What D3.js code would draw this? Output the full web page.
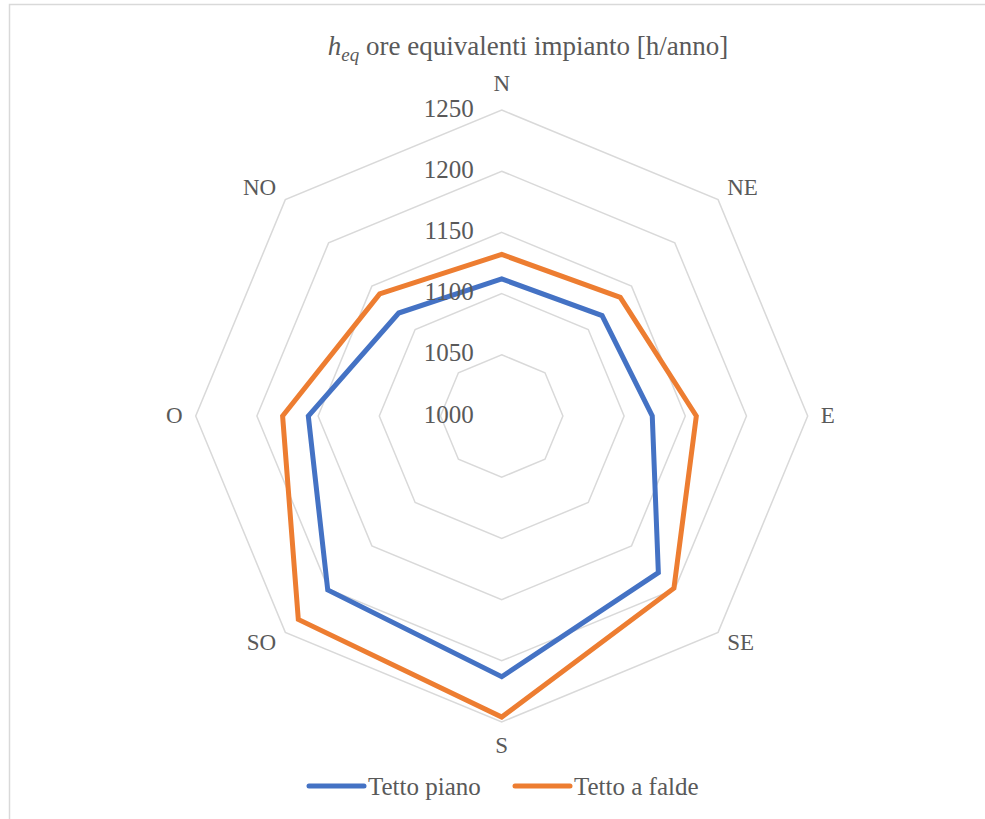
<!DOCTYPE html>
<html>
<head>
<meta charset="utf-8">
<script src="https://cdn.jsdelivr.net/npm/d3@7"></script>
<style>
  body { margin: 0; background: #fff; }
  svg { display: block; }
</style>
</head>
<body>
<div id="radar"></div>
<script>
const directions = ['N', 'NE', 'E', 'SE', 'S', 'SO', 'O', 'NO'];
const tettoPiano = [1112, 1116, 1123, 1181, 1213, 1201, 1158, 1119];
const tettoFalde = [1132, 1137, 1159, 1199, 1246, 1235, 1179, 1141];
const ringTicks = [1000, 1050, 1100, 1150, 1200, 1250];

const series = [
  { name: 'Tetto piano', values: tettoPiano, color: '#4472C4' },
  { name: 'Tetto a falde', values: tettoFalde, color: '#ED7D31' }
];

const width = 985;
const height = 819;
const cx = 501.7, cy = 416;
const font = '"Liberation Serif", serif';

const svg = d3.select('#radar')
  .append('svg')
  .attr('width', width)
  .attr('height', height);

// chart area border
svg.append('rect')
  .attr('x', 9.5)
  .attr('y', 4.5)
  .attr('width', width + 20)
  .attr('height', height + 20)
  .attr('fill', 'none')
  .attr('stroke', '#d9d9d9')
  .attr('stroke-width', 1.5);

const r = d3.scaleLinear()
  .domain([1000, 1250])
  .range([0, 306]);

const angle = d3.scaleLinear()
  .domain([0, directions.length])
  .range([0, 2 * Math.PI]);

const g = svg.append('g')
  .attr('transform', `translate(${cx},${cy})`);

const radial = d3.lineRadial()
  .angle((d, i) => angle(i))
  .radius(d => r(d))
  .curve(d3.curveLinearClosed);

// grid octagons
g.selectAll('.ring')
  .data(ringTicks.filter(t => t > 1000))
  .enter()
  .append('path')
  .attr('class', 'ring')
  .attr('d', t => radial(directions.map(() => t)))
  .attr('fill', 'none')
  .attr('stroke', '#d9d9d9')
  .attr('stroke-width', 1.5);

// series
g.selectAll('.serie')
  .data(series)
  .enter()
  .append('path')
  .attr('class', 'serie')
  .attr('d', s => radial(s.values))
  .attr('fill', 'none')
  .attr('stroke', s => s.color)
  .attr('stroke-width', 5)
  .attr('stroke-linejoin', 'miter');

// tick labels
g.selectAll('.tick')
  .data(ringTicks)
  .enter()
  .append('text')
  .attr('class', 'tick')
  .attr('x', -28)
  .attr('y', t => -r(t) - 2)
  .attr('text-anchor', 'end')
  .attr('dominant-baseline', 'central')
  .attr('font-family', font)
  .attr('font-size', '25px')
  .attr('fill', '#595959')
  .text(t => t);

// direction labels, placed just outside the outer ring vertex
const rOuter = r(ringTicks[ringTicks.length - 1]);
function labelPos(i) {
  const a = angle(i);
  const s = Math.sin(a), c = Math.cos(a);
  const vx = rOuter * s, vy = -rOuter * c;
  const dx = s * 13;
  let dy;
  if (Math.abs(c) > 0.9) dy = c > 0 ? -27 : 23;
  else if (Math.abs(c) > 0.1) dy = c > 0 ? -12 : 10;
  else dy = -1;
  return [vx + dx, vy + dy];
}

g.selectAll('.dir')
  .data(directions)
  .enter()
  .append('text')
  .attr('class', 'dir')
  .attr('x', (d, i) => labelPos(i)[0])
  .attr('y', (d, i) => labelPos(i)[1])
  .attr('text-anchor', (d, i) => {
    const s = Math.sin(angle(i));
    return s > 0.1 ? 'start' : s < -0.1 ? 'end' : 'middle';
  })
  .attr('dominant-baseline', 'central')
  .attr('font-family', font)
  .attr('font-size', '23px')
  .attr('fill', '#595959')
  .text(d => d);

// title
const title = svg.append('text')
  .attr('x', 528)
  .attr('y', 55)
  .attr('text-anchor', 'middle')
  .attr('font-family', font)
  .attr('font-size', '27px')
  .attr('fill', '#595959');
title.append('tspan').attr('font-style', 'italic').text('h');
title.append('tspan').attr('font-style', 'italic').attr('font-size', '19px').attr('dy', 6).text('eq');
title.append('tspan').attr('dy', -6).text(' ore equivalenti impianto [h/anno]');

// legend
const legendX = [309, 515];
const legend = svg.selectAll('.legend')
  .data(series)
  .enter()
  .append('g')
  .attr('class', 'legend')
  .attr('transform', (d, i) => `translate(${legendX[i]},786)`);

legend.append('line')
  .attr('x1', 0)
  .attr('x2', 55)
  .attr('y1', 0)
  .attr('y2', 0)
  .attr('stroke', d => d.color)
  .attr('stroke-width', 5)
  .attr('stroke-linecap', 'round');

legend.append('text')
  .attr('x', 59)
  .attr('y', 0)
  .attr('dominant-baseline', 'central')
  .attr('font-family', font)
  .attr('font-size', '25px')
  .attr('fill', '#595959')
  .text(d => d.name);
</script>
</body>
</html>
